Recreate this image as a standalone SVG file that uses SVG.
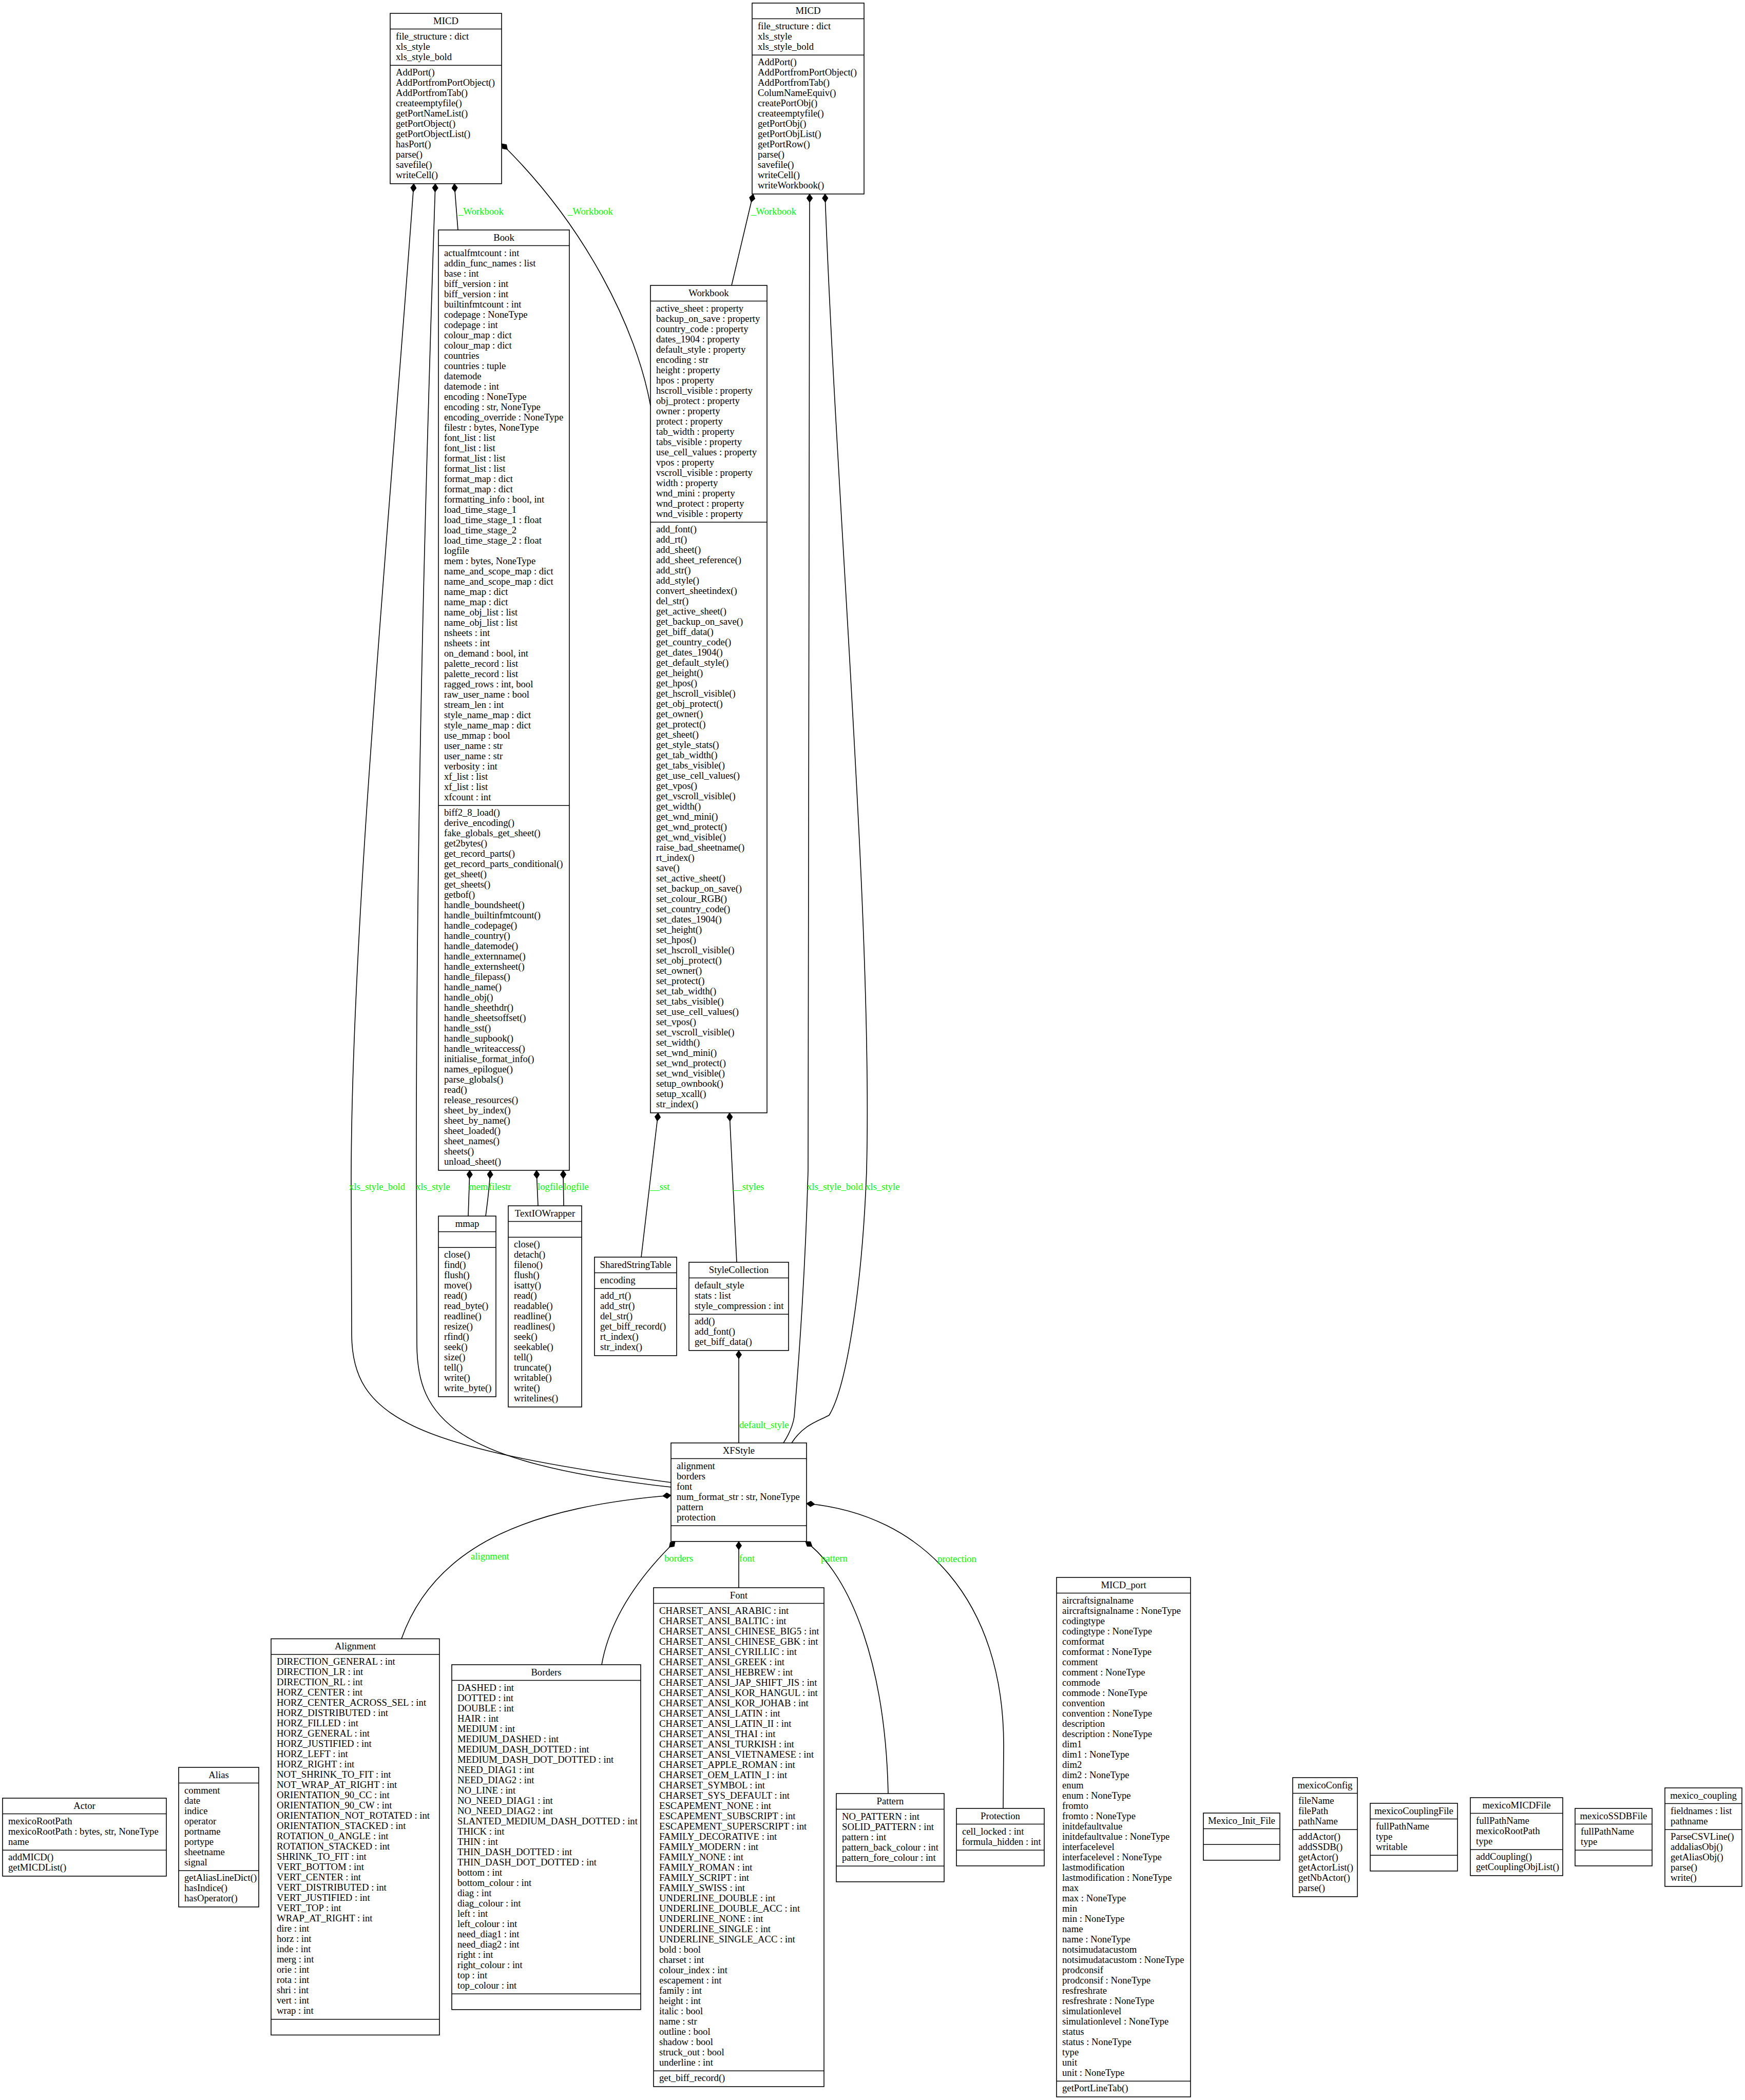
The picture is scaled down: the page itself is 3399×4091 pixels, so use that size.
<svg xmlns="http://www.w3.org/2000/svg" width="3399" height="4091" viewBox="0 0 3399 4091">
<style>
text{font-family:"Liberation Serif","Times New Roman",serif;font-size:18.7px;fill:#000}
.h{text-anchor:middle}
.box{fill:#fff;stroke:#000;stroke-width:1.6}
.sep{stroke:#000;stroke-width:1.6}
.e{fill:none;stroke:#000;stroke-width:1.6}
.lbl{fill:#00ff00}
</style>
<defs>
<marker id="dia" markerUnits="userSpaceOnUse" viewBox="0 0 16 12" refX="0" refY="6" markerWidth="16" markerHeight="12" orient="auto"><polygon points="0,6 8,0.5 16,6 8,11.5" fill="#000" stroke="#000" stroke-width="1"/></marker>
</defs>
<rect width="3399" height="4091" fill="#fff"/>

<g id="MICD_L">
<rect class="box" x="760" y="26" width="217" height="331.9"/>
<line class="sep" x1="760" y1="56.5" x2="977" y2="56.5"/>
<line class="sep" x1="760" y1="127.2" x2="977" y2="127.2"/>
<text class="h" x="868.5" y="46.5">MICD</text>
<text y="76.5"><tspan x="771">file_structure : dict</tspan><tspan x="771" dy="20">xls_style</tspan><tspan x="771" dy="20">xls_style_bold</tspan></text>
<text y="147.2"><tspan x="771">AddPort()</tspan><tspan x="771" dy="20">AddPortfromPortObject()</tspan><tspan x="771" dy="20">AddPortfromTab()</tspan><tspan x="771" dy="20">createemptyfile()</tspan><tspan x="771" dy="20">getPortNameList()</tspan><tspan x="771" dy="20">getPortObject()</tspan><tspan x="771" dy="20">getPortObjectList()</tspan><tspan x="771" dy="20">hasPort()</tspan><tspan x="771" dy="20">parse()</tspan><tspan x="771" dy="20">savefile()</tspan><tspan x="771" dy="20">writeCell()</tspan></text>
</g>

<g id="MICD_R">
<rect class="box" x="1465" y="6" width="218" height="371.9"/>
<line class="sep" x1="1465" y1="36.5" x2="1683" y2="36.5"/>
<line class="sep" x1="1465" y1="107.2" x2="1683" y2="107.2"/>
<text class="h" x="1574" y="26.5">MICD</text>
<text y="56.5"><tspan x="1476">file_structure : dict</tspan><tspan x="1476" dy="20">xls_style</tspan><tspan x="1476" dy="20">xls_style_bold</tspan></text>
<text y="127.2"><tspan x="1476">AddPort()</tspan><tspan x="1476" dy="20">AddPortfromPortObject()</tspan><tspan x="1476" dy="20">AddPortfromTab()</tspan><tspan x="1476" dy="20">ColumNameEquiv()</tspan><tspan x="1476" dy="20">createPortObj()</tspan><tspan x="1476" dy="20">createemptyfile()</tspan><tspan x="1476" dy="20">getPortObj()</tspan><tspan x="1476" dy="20">getPortObjList()</tspan><tspan x="1476" dy="20">getPortRow()</tspan><tspan x="1476" dy="20">parse()</tspan><tspan x="1476" dy="20">savefile()</tspan><tspan x="1476" dy="20">writeCell()</tspan><tspan x="1476" dy="20">writeWorkbook()</tspan></text>
</g>

<g id="Book">
<rect class="box" x="854" y="448" width="255" height="1831.9"/>
<line class="sep" x1="854" y1="478.5" x2="1109" y2="478.5"/>
<line class="sep" x1="854" y1="1569.2" x2="1109" y2="1569.2"/>
<text class="h" x="981.5" y="468.5">Book</text>
<text y="498.5"><tspan x="865">actualfmtcount : int</tspan><tspan x="865" dy="20">addin_func_names : list</tspan><tspan x="865" dy="20">base : int</tspan><tspan x="865" dy="20">biff_version : int</tspan><tspan x="865" dy="20">biff_version : int</tspan><tspan x="865" dy="20">builtinfmtcount : int</tspan><tspan x="865" dy="20">codepage : NoneType</tspan><tspan x="865" dy="20">codepage : int</tspan><tspan x="865" dy="20">colour_map : dict</tspan><tspan x="865" dy="20">colour_map : dict</tspan><tspan x="865" dy="20">countries</tspan><tspan x="865" dy="20">countries : tuple</tspan><tspan x="865" dy="20">datemode</tspan><tspan x="865" dy="20">datemode : int</tspan><tspan x="865" dy="20">encoding : NoneType</tspan><tspan x="865" dy="20">encoding : str, NoneType</tspan><tspan x="865" dy="20">encoding_override : NoneType</tspan><tspan x="865" dy="20">filestr : bytes, NoneType</tspan><tspan x="865" dy="20">font_list : list</tspan><tspan x="865" dy="20">font_list : list</tspan><tspan x="865" dy="20">format_list : list</tspan><tspan x="865" dy="20">format_list : list</tspan><tspan x="865" dy="20">format_map : dict</tspan><tspan x="865" dy="20">format_map : dict</tspan><tspan x="865" dy="20">formatting_info : bool, int</tspan><tspan x="865" dy="20">load_time_stage_1</tspan><tspan x="865" dy="20">load_time_stage_1 : float</tspan><tspan x="865" dy="20">load_time_stage_2</tspan><tspan x="865" dy="20">load_time_stage_2 : float</tspan><tspan x="865" dy="20">logfile</tspan><tspan x="865" dy="20">mem : bytes, NoneType</tspan><tspan x="865" dy="20">name_and_scope_map : dict</tspan><tspan x="865" dy="20">name_and_scope_map : dict</tspan><tspan x="865" dy="20">name_map : dict</tspan><tspan x="865" dy="20">name_map : dict</tspan><tspan x="865" dy="20">name_obj_list : list</tspan><tspan x="865" dy="20">name_obj_list : list</tspan><tspan x="865" dy="20">nsheets : int</tspan><tspan x="865" dy="20">nsheets : int</tspan><tspan x="865" dy="20">on_demand : bool, int</tspan><tspan x="865" dy="20">palette_record : list</tspan><tspan x="865" dy="20">palette_record : list</tspan><tspan x="865" dy="20">ragged_rows : int, bool</tspan><tspan x="865" dy="20">raw_user_name : bool</tspan><tspan x="865" dy="20">stream_len : int</tspan><tspan x="865" dy="20">style_name_map : dict</tspan><tspan x="865" dy="20">style_name_map : dict</tspan><tspan x="865" dy="20">use_mmap : bool</tspan><tspan x="865" dy="20">user_name : str</tspan><tspan x="865" dy="20">user_name : str</tspan><tspan x="865" dy="20">verbosity : int</tspan><tspan x="865" dy="20">xf_list : list</tspan><tspan x="865" dy="20">xf_list : list</tspan><tspan x="865" dy="20">xfcount : int</tspan></text>
<text y="1589.2"><tspan x="865">biff2_8_load()</tspan><tspan x="865" dy="20">derive_encoding()</tspan><tspan x="865" dy="20">fake_globals_get_sheet()</tspan><tspan x="865" dy="20">get2bytes()</tspan><tspan x="865" dy="20">get_record_parts()</tspan><tspan x="865" dy="20">get_record_parts_conditional()</tspan><tspan x="865" dy="20">get_sheet()</tspan><tspan x="865" dy="20">get_sheets()</tspan><tspan x="865" dy="20">getbof()</tspan><tspan x="865" dy="20">handle_boundsheet()</tspan><tspan x="865" dy="20">handle_builtinfmtcount()</tspan><tspan x="865" dy="20">handle_codepage()</tspan><tspan x="865" dy="20">handle_country()</tspan><tspan x="865" dy="20">handle_datemode()</tspan><tspan x="865" dy="20">handle_externname()</tspan><tspan x="865" dy="20">handle_externsheet()</tspan><tspan x="865" dy="20">handle_filepass()</tspan><tspan x="865" dy="20">handle_name()</tspan><tspan x="865" dy="20">handle_obj()</tspan><tspan x="865" dy="20">handle_sheethdr()</tspan><tspan x="865" dy="20">handle_sheetsoffset()</tspan><tspan x="865" dy="20">handle_sst()</tspan><tspan x="865" dy="20">handle_supbook()</tspan><tspan x="865" dy="20">handle_writeaccess()</tspan><tspan x="865" dy="20">initialise_format_info()</tspan><tspan x="865" dy="20">names_epilogue()</tspan><tspan x="865" dy="20">parse_globals()</tspan><tspan x="865" dy="20">read()</tspan><tspan x="865" dy="20">release_resources()</tspan><tspan x="865" dy="20">sheet_by_index()</tspan><tspan x="865" dy="20">sheet_by_name()</tspan><tspan x="865" dy="20">sheet_loaded()</tspan><tspan x="865" dy="20">sheet_names()</tspan><tspan x="865" dy="20">sheets()</tspan><tspan x="865" dy="20">unload_sheet()</tspan></text>
</g>

<g id="Workbook">
<rect class="box" x="1267" y="556" width="227" height="1611.9"/>
<line class="sep" x1="1267" y1="586.5" x2="1494" y2="586.5"/>
<line class="sep" x1="1267" y1="1017.2" x2="1494" y2="1017.2"/>
<text class="h" x="1380.5" y="576.5">Workbook</text>
<text y="606.5"><tspan x="1278">active_sheet : property</tspan><tspan x="1278" dy="20">backup_on_save : property</tspan><tspan x="1278" dy="20">country_code : property</tspan><tspan x="1278" dy="20">dates_1904 : property</tspan><tspan x="1278" dy="20">default_style : property</tspan><tspan x="1278" dy="20">encoding : str</tspan><tspan x="1278" dy="20">height : property</tspan><tspan x="1278" dy="20">hpos : property</tspan><tspan x="1278" dy="20">hscroll_visible : property</tspan><tspan x="1278" dy="20">obj_protect : property</tspan><tspan x="1278" dy="20">owner : property</tspan><tspan x="1278" dy="20">protect : property</tspan><tspan x="1278" dy="20">tab_width : property</tspan><tspan x="1278" dy="20">tabs_visible : property</tspan><tspan x="1278" dy="20">use_cell_values : property</tspan><tspan x="1278" dy="20">vpos : property</tspan><tspan x="1278" dy="20">vscroll_visible : property</tspan><tspan x="1278" dy="20">width : property</tspan><tspan x="1278" dy="20">wnd_mini : property</tspan><tspan x="1278" dy="20">wnd_protect : property</tspan><tspan x="1278" dy="20">wnd_visible : property</tspan></text>
<text y="1037.2"><tspan x="1278">add_font()</tspan><tspan x="1278" dy="20">add_rt()</tspan><tspan x="1278" dy="20">add_sheet()</tspan><tspan x="1278" dy="20">add_sheet_reference()</tspan><tspan x="1278" dy="20">add_str()</tspan><tspan x="1278" dy="20">add_style()</tspan><tspan x="1278" dy="20">convert_sheetindex()</tspan><tspan x="1278" dy="20">del_str()</tspan><tspan x="1278" dy="20">get_active_sheet()</tspan><tspan x="1278" dy="20">get_backup_on_save()</tspan><tspan x="1278" dy="20">get_biff_data()</tspan><tspan x="1278" dy="20">get_country_code()</tspan><tspan x="1278" dy="20">get_dates_1904()</tspan><tspan x="1278" dy="20">get_default_style()</tspan><tspan x="1278" dy="20">get_height()</tspan><tspan x="1278" dy="20">get_hpos()</tspan><tspan x="1278" dy="20">get_hscroll_visible()</tspan><tspan x="1278" dy="20">get_obj_protect()</tspan><tspan x="1278" dy="20">get_owner()</tspan><tspan x="1278" dy="20">get_protect()</tspan><tspan x="1278" dy="20">get_sheet()</tspan><tspan x="1278" dy="20">get_style_stats()</tspan><tspan x="1278" dy="20">get_tab_width()</tspan><tspan x="1278" dy="20">get_tabs_visible()</tspan><tspan x="1278" dy="20">get_use_cell_values()</tspan><tspan x="1278" dy="20">get_vpos()</tspan><tspan x="1278" dy="20">get_vscroll_visible()</tspan><tspan x="1278" dy="20">get_width()</tspan><tspan x="1278" dy="20">get_wnd_mini()</tspan><tspan x="1278" dy="20">get_wnd_protect()</tspan><tspan x="1278" dy="20">get_wnd_visible()</tspan><tspan x="1278" dy="20">raise_bad_sheetname()</tspan><tspan x="1278" dy="20">rt_index()</tspan><tspan x="1278" dy="20">save()</tspan><tspan x="1278" dy="20">set_active_sheet()</tspan><tspan x="1278" dy="20">set_backup_on_save()</tspan><tspan x="1278" dy="20">set_colour_RGB()</tspan><tspan x="1278" dy="20">set_country_code()</tspan><tspan x="1278" dy="20">set_dates_1904()</tspan><tspan x="1278" dy="20">set_height()</tspan><tspan x="1278" dy="20">set_hpos()</tspan><tspan x="1278" dy="20">set_hscroll_visible()</tspan><tspan x="1278" dy="20">set_obj_protect()</tspan><tspan x="1278" dy="20">set_owner()</tspan><tspan x="1278" dy="20">set_protect()</tspan><tspan x="1278" dy="20">set_tab_width()</tspan><tspan x="1278" dy="20">set_tabs_visible()</tspan><tspan x="1278" dy="20">set_use_cell_values()</tspan><tspan x="1278" dy="20">set_vpos()</tspan><tspan x="1278" dy="20">set_vscroll_visible()</tspan><tspan x="1278" dy="20">set_width()</tspan><tspan x="1278" dy="20">set_wnd_mini()</tspan><tspan x="1278" dy="20">set_wnd_protect()</tspan><tspan x="1278" dy="20">set_wnd_visible()</tspan><tspan x="1278" dy="20">setup_ownbook()</tspan><tspan x="1278" dy="20">setup_xcall()</tspan><tspan x="1278" dy="20">str_index()</tspan></text>
</g>

<g id="mmap">
<rect class="box" x="854" y="2369" width="112" height="351.9"/>
<line class="sep" x1="854" y1="2399.5" x2="966" y2="2399.5"/>
<line class="sep" x1="854" y1="2430.2" x2="966" y2="2430.2"/>
<text class="h" x="910" y="2389.5">mmap</text>
<text y="2450.2"><tspan x="865">close()</tspan><tspan x="865" dy="20">find()</tspan><tspan x="865" dy="20">flush()</tspan><tspan x="865" dy="20">move()</tspan><tspan x="865" dy="20">read()</tspan><tspan x="865" dy="20">read_byte()</tspan><tspan x="865" dy="20">readline()</tspan><tspan x="865" dy="20">resize()</tspan><tspan x="865" dy="20">rfind()</tspan><tspan x="865" dy="20">seek()</tspan><tspan x="865" dy="20">size()</tspan><tspan x="865" dy="20">tell()</tspan><tspan x="865" dy="20">write()</tspan><tspan x="865" dy="20">write_byte()</tspan></text>
</g>

<g id="TextIOWrapper">
<rect class="box" x="990" y="2349" width="143" height="391.9"/>
<line class="sep" x1="990" y1="2379.5" x2="1133" y2="2379.5"/>
<line class="sep" x1="990" y1="2410.2" x2="1133" y2="2410.2"/>
<text class="h" x="1061.5" y="2369.5">TextIOWrapper</text>
<text y="2430.2"><tspan x="1001">close()</tspan><tspan x="1001" dy="20">detach()</tspan><tspan x="1001" dy="20">fileno()</tspan><tspan x="1001" dy="20">flush()</tspan><tspan x="1001" dy="20">isatty()</tspan><tspan x="1001" dy="20">read()</tspan><tspan x="1001" dy="20">readable()</tspan><tspan x="1001" dy="20">readline()</tspan><tspan x="1001" dy="20">readlines()</tspan><tspan x="1001" dy="20">seek()</tspan><tspan x="1001" dy="20">seekable()</tspan><tspan x="1001" dy="20">tell()</tspan><tspan x="1001" dy="20">truncate()</tspan><tspan x="1001" dy="20">writable()</tspan><tspan x="1001" dy="20">write()</tspan><tspan x="1001" dy="20">writelines()</tspan></text>
</g>

<g id="SharedStringTable">
<rect class="box" x="1158" y="2449" width="160" height="191.9"/>
<line class="sep" x1="1158" y1="2479.5" x2="1318" y2="2479.5"/>
<line class="sep" x1="1158" y1="2510.2" x2="1318" y2="2510.2"/>
<text class="h" x="1238" y="2469.5">SharedStringTable</text>
<text x="1169" y="2499.5">encoding</text>
<text y="2530.2"><tspan x="1169">add_rt()</tspan><tspan x="1169" dy="20">add_str()</tspan><tspan x="1169" dy="20">del_str()</tspan><tspan x="1169" dy="20">get_biff_record()</tspan><tspan x="1169" dy="20">rt_index()</tspan><tspan x="1169" dy="20">str_index()</tspan></text>
</g>

<g id="StyleCollection">
<rect class="box" x="1342" y="2459" width="194" height="171.9"/>
<line class="sep" x1="1342" y1="2489.5" x2="1536" y2="2489.5"/>
<line class="sep" x1="1342" y1="2560.2" x2="1536" y2="2560.2"/>
<text class="h" x="1439" y="2479.5">StyleCollection</text>
<text y="2509.5"><tspan x="1353">default_style</tspan><tspan x="1353" dy="20">stats : list</tspan><tspan x="1353" dy="20">style_compression : int</tspan></text>
<text y="2580.2"><tspan x="1353">add()</tspan><tspan x="1353" dy="20">add_font()</tspan><tspan x="1353" dy="20">get_biff_data()</tspan></text>
</g>

<g id="XFStyle">
<rect class="box" x="1307" y="2811" width="264" height="191.9"/>
<line class="sep" x1="1307" y1="2841.5" x2="1571" y2="2841.5"/>
<line class="sep" x1="1307" y1="2972.2" x2="1571" y2="2972.2"/>
<text class="h" x="1439" y="2831.5">XFStyle</text>
<text y="2861.5"><tspan x="1318">alignment</tspan><tspan x="1318" dy="20">borders</tspan><tspan x="1318" dy="20">font</tspan><tspan x="1318" dy="20">num_format_str : str, NoneType</tspan><tspan x="1318" dy="20">pattern</tspan><tspan x="1318" dy="20">protection</tspan></text>
</g>

<g id="Alignment">
<rect class="box" x="528" y="3192.5" width="328" height="771.9"/>
<line class="sep" x1="528" y1="3223" x2="856" y2="3223"/>
<line class="sep" x1="528" y1="3933.7" x2="856" y2="3933.7"/>
<text class="h" x="692" y="3213">Alignment</text>
<text y="3243"><tspan x="539">DIRECTION_GENERAL : int</tspan><tspan x="539" dy="20">DIRECTION_LR : int</tspan><tspan x="539" dy="20">DIRECTION_RL : int</tspan><tspan x="539" dy="20">HORZ_CENTER : int</tspan><tspan x="539" dy="20">HORZ_CENTER_ACROSS_SEL : int</tspan><tspan x="539" dy="20">HORZ_DISTRIBUTED : int</tspan><tspan x="539" dy="20">HORZ_FILLED : int</tspan><tspan x="539" dy="20">HORZ_GENERAL : int</tspan><tspan x="539" dy="20">HORZ_JUSTIFIED : int</tspan><tspan x="539" dy="20">HORZ_LEFT : int</tspan><tspan x="539" dy="20">HORZ_RIGHT : int</tspan><tspan x="539" dy="20">NOT_SHRINK_TO_FIT : int</tspan><tspan x="539" dy="20">NOT_WRAP_AT_RIGHT : int</tspan><tspan x="539" dy="20">ORIENTATION_90_CC : int</tspan><tspan x="539" dy="20">ORIENTATION_90_CW : int</tspan><tspan x="539" dy="20">ORIENTATION_NOT_ROTATED : int</tspan><tspan x="539" dy="20">ORIENTATION_STACKED : int</tspan><tspan x="539" dy="20">ROTATION_0_ANGLE : int</tspan><tspan x="539" dy="20">ROTATION_STACKED : int</tspan><tspan x="539" dy="20">SHRINK_TO_FIT : int</tspan><tspan x="539" dy="20">VERT_BOTTOM : int</tspan><tspan x="539" dy="20">VERT_CENTER : int</tspan><tspan x="539" dy="20">VERT_DISTRIBUTED : int</tspan><tspan x="539" dy="20">VERT_JUSTIFIED : int</tspan><tspan x="539" dy="20">VERT_TOP : int</tspan><tspan x="539" dy="20">WRAP_AT_RIGHT : int</tspan><tspan x="539" dy="20">dire : int</tspan><tspan x="539" dy="20">horz : int</tspan><tspan x="539" dy="20">inde : int</tspan><tspan x="539" dy="20">merg : int</tspan><tspan x="539" dy="20">orie : int</tspan><tspan x="539" dy="20">rota : int</tspan><tspan x="539" dy="20">shri : int</tspan><tspan x="539" dy="20">vert : int</tspan><tspan x="539" dy="20">wrap : int</tspan></text>
</g>

<g id="Borders">
<rect class="box" x="880" y="3243" width="368" height="671.9"/>
<line class="sep" x1="880" y1="3273.5" x2="1248" y2="3273.5"/>
<line class="sep" x1="880" y1="3884.2" x2="1248" y2="3884.2"/>
<text class="h" x="1064" y="3263.5">Borders</text>
<text y="3293.5"><tspan x="891">DASHED : int</tspan><tspan x="891" dy="20">DOTTED : int</tspan><tspan x="891" dy="20">DOUBLE : int</tspan><tspan x="891" dy="20">HAIR : int</tspan><tspan x="891" dy="20">MEDIUM : int</tspan><tspan x="891" dy="20">MEDIUM_DASHED : int</tspan><tspan x="891" dy="20">MEDIUM_DASH_DOTTED : int</tspan><tspan x="891" dy="20">MEDIUM_DASH_DOT_DOTTED : int</tspan><tspan x="891" dy="20">NEED_DIAG1 : int</tspan><tspan x="891" dy="20">NEED_DIAG2 : int</tspan><tspan x="891" dy="20">NO_LINE : int</tspan><tspan x="891" dy="20">NO_NEED_DIAG1 : int</tspan><tspan x="891" dy="20">NO_NEED_DIAG2 : int</tspan><tspan x="891" dy="20">SLANTED_MEDIUM_DASH_DOTTED : int</tspan><tspan x="891" dy="20">THICK : int</tspan><tspan x="891" dy="20">THIN : int</tspan><tspan x="891" dy="20">THIN_DASH_DOTTED : int</tspan><tspan x="891" dy="20">THIN_DASH_DOT_DOTTED : int</tspan><tspan x="891" dy="20">bottom : int</tspan><tspan x="891" dy="20">bottom_colour : int</tspan><tspan x="891" dy="20">diag : int</tspan><tspan x="891" dy="20">diag_colour : int</tspan><tspan x="891" dy="20">left : int</tspan><tspan x="891" dy="20">left_colour : int</tspan><tspan x="891" dy="20">need_diag1 : int</tspan><tspan x="891" dy="20">need_diag2 : int</tspan><tspan x="891" dy="20">right : int</tspan><tspan x="891" dy="20">right_colour : int</tspan><tspan x="891" dy="20">top : int</tspan><tspan x="891" dy="20">top_colour : int</tspan></text>
</g>

<g id="Font">
<rect class="box" x="1273" y="3093" width="332" height="971.9"/>
<line class="sep" x1="1273" y1="3123.5" x2="1605" y2="3123.5"/>
<line class="sep" x1="1273" y1="4034.2" x2="1605" y2="4034.2"/>
<text class="h" x="1439" y="3113.5">Font</text>
<text y="3143.5"><tspan x="1284">CHARSET_ANSI_ARABIC : int</tspan><tspan x="1284" dy="20">CHARSET_ANSI_BALTIC : int</tspan><tspan x="1284" dy="20">CHARSET_ANSI_CHINESE_BIG5 : int</tspan><tspan x="1284" dy="20">CHARSET_ANSI_CHINESE_GBK : int</tspan><tspan x="1284" dy="20">CHARSET_ANSI_CYRILLIC : int</tspan><tspan x="1284" dy="20">CHARSET_ANSI_GREEK : int</tspan><tspan x="1284" dy="20">CHARSET_ANSI_HEBREW : int</tspan><tspan x="1284" dy="20">CHARSET_ANSI_JAP_SHIFT_JIS : int</tspan><tspan x="1284" dy="20">CHARSET_ANSI_KOR_HANGUL : int</tspan><tspan x="1284" dy="20">CHARSET_ANSI_KOR_JOHAB : int</tspan><tspan x="1284" dy="20">CHARSET_ANSI_LATIN : int</tspan><tspan x="1284" dy="20">CHARSET_ANSI_LATIN_II : int</tspan><tspan x="1284" dy="20">CHARSET_ANSI_THAI : int</tspan><tspan x="1284" dy="20">CHARSET_ANSI_TURKISH : int</tspan><tspan x="1284" dy="20">CHARSET_ANSI_VIETNAMESE : int</tspan><tspan x="1284" dy="20">CHARSET_APPLE_ROMAN : int</tspan><tspan x="1284" dy="20">CHARSET_OEM_LATIN_I : int</tspan><tspan x="1284" dy="20">CHARSET_SYMBOL : int</tspan><tspan x="1284" dy="20">CHARSET_SYS_DEFAULT : int</tspan><tspan x="1284" dy="20">ESCAPEMENT_NONE : int</tspan><tspan x="1284" dy="20">ESCAPEMENT_SUBSCRIPT : int</tspan><tspan x="1284" dy="20">ESCAPEMENT_SUPERSCRIPT : int</tspan><tspan x="1284" dy="20">FAMILY_DECORATIVE : int</tspan><tspan x="1284" dy="20">FAMILY_MODERN : int</tspan><tspan x="1284" dy="20">FAMILY_NONE : int</tspan><tspan x="1284" dy="20">FAMILY_ROMAN : int</tspan><tspan x="1284" dy="20">FAMILY_SCRIPT : int</tspan><tspan x="1284" dy="20">FAMILY_SWISS : int</tspan><tspan x="1284" dy="20">UNDERLINE_DOUBLE : int</tspan><tspan x="1284" dy="20">UNDERLINE_DOUBLE_ACC : int</tspan><tspan x="1284" dy="20">UNDERLINE_NONE : int</tspan><tspan x="1284" dy="20">UNDERLINE_SINGLE : int</tspan><tspan x="1284" dy="20">UNDERLINE_SINGLE_ACC : int</tspan><tspan x="1284" dy="20">bold : bool</tspan><tspan x="1284" dy="20">charset : int</tspan><tspan x="1284" dy="20">colour_index : int</tspan><tspan x="1284" dy="20">escapement : int</tspan><tspan x="1284" dy="20">family : int</tspan><tspan x="1284" dy="20">height : int</tspan><tspan x="1284" dy="20">italic : bool</tspan><tspan x="1284" dy="20">name : str</tspan><tspan x="1284" dy="20">outline : bool</tspan><tspan x="1284" dy="20">shadow : bool</tspan><tspan x="1284" dy="20">struck_out : bool</tspan><tspan x="1284" dy="20">underline : int</tspan></text>
<text x="1284" y="4054.2">get_biff_record()</text>
</g>

<g id="Pattern">
<rect class="box" x="1629" y="3494" width="210" height="171.9"/>
<line class="sep" x1="1629" y1="3524.5" x2="1839" y2="3524.5"/>
<line class="sep" x1="1629" y1="3635.2" x2="1839" y2="3635.2"/>
<text class="h" x="1734" y="3514.5">Pattern</text>
<text y="3544.5"><tspan x="1640">NO_PATTERN : int</tspan><tspan x="1640" dy="20">SOLID_PATTERN : int</tspan><tspan x="1640" dy="20">pattern : int</tspan><tspan x="1640" dy="20">pattern_back_colour : int</tspan><tspan x="1640" dy="20">pattern_fore_colour : int</tspan></text>
</g>

<g id="Protection">
<rect class="box" x="1863" y="3523" width="171" height="111.9"/>
<line class="sep" x1="1863" y1="3553.5" x2="2034" y2="3553.5"/>
<line class="sep" x1="1863" y1="3604.2" x2="2034" y2="3604.2"/>
<text class="h" x="1948.5" y="3543.5">Protection</text>
<text y="3573.5"><tspan x="1874">cell_locked : int</tspan><tspan x="1874" dy="20">formula_hidden : int</tspan></text>
</g>

<g id="MICD_port">
<rect class="box" x="2058" y="3073" width="261" height="1011.9"/>
<line class="sep" x1="2058" y1="3103.5" x2="2319" y2="3103.5"/>
<line class="sep" x1="2058" y1="4054.2" x2="2319" y2="4054.2"/>
<text class="h" x="2188.5" y="3093.5">MICD_port</text>
<text y="3123.5"><tspan x="2069">aircraftsignalname</tspan><tspan x="2069" dy="20">aircraftsignalname : NoneType</tspan><tspan x="2069" dy="20">codingtype</tspan><tspan x="2069" dy="20">codingtype : NoneType</tspan><tspan x="2069" dy="20">comformat</tspan><tspan x="2069" dy="20">comformat : NoneType</tspan><tspan x="2069" dy="20">comment</tspan><tspan x="2069" dy="20">comment : NoneType</tspan><tspan x="2069" dy="20">commode</tspan><tspan x="2069" dy="20">commode : NoneType</tspan><tspan x="2069" dy="20">convention</tspan><tspan x="2069" dy="20">convention : NoneType</tspan><tspan x="2069" dy="20">description</tspan><tspan x="2069" dy="20">description : NoneType</tspan><tspan x="2069" dy="20">dim1</tspan><tspan x="2069" dy="20">dim1  : NoneType</tspan><tspan x="2069" dy="20">dim2</tspan><tspan x="2069" dy="20">dim2  : NoneType</tspan><tspan x="2069" dy="20">enum</tspan><tspan x="2069" dy="20">enum : NoneType</tspan><tspan x="2069" dy="20">fromto</tspan><tspan x="2069" dy="20">fromto : NoneType</tspan><tspan x="2069" dy="20">initdefaultvalue</tspan><tspan x="2069" dy="20">initdefaultvalue : NoneType</tspan><tspan x="2069" dy="20">interfacelevel</tspan><tspan x="2069" dy="20">interfacelevel : NoneType</tspan><tspan x="2069" dy="20">lastmodification</tspan><tspan x="2069" dy="20">lastmodification : NoneType</tspan><tspan x="2069" dy="20">max</tspan><tspan x="2069" dy="20">max : NoneType</tspan><tspan x="2069" dy="20">min</tspan><tspan x="2069" dy="20">min : NoneType</tspan><tspan x="2069" dy="20">name</tspan><tspan x="2069" dy="20">name : NoneType</tspan><tspan x="2069" dy="20">notsimudatacustom</tspan><tspan x="2069" dy="20">notsimudatacustom : NoneType</tspan><tspan x="2069" dy="20">prodconsif</tspan><tspan x="2069" dy="20">prodconsif : NoneType</tspan><tspan x="2069" dy="20">resfreshrate</tspan><tspan x="2069" dy="20">resfreshrate : NoneType</tspan><tspan x="2069" dy="20">simulationlevel</tspan><tspan x="2069" dy="20">simulationlevel : NoneType</tspan><tspan x="2069" dy="20">status</tspan><tspan x="2069" dy="20">status : NoneType</tspan><tspan x="2069" dy="20">type</tspan><tspan x="2069" dy="20">unit</tspan><tspan x="2069" dy="20">unit : NoneType</tspan></text>
<text x="2069" y="4074.2">getPortLineTab()</text>
</g>

<g id="Actor">
<rect class="box" x="5" y="3503" width="319" height="151.9"/>
<line class="sep" x1="5" y1="3533.5" x2="324" y2="3533.5"/>
<line class="sep" x1="5" y1="3604.2" x2="324" y2="3604.2"/>
<text class="h" x="164.5" y="3523.5">Actor</text>
<text y="3553.5"><tspan x="16">mexicoRootPath</tspan><tspan x="16" dy="20">mexicoRootPath : bytes, str, NoneType</tspan><tspan x="16" dy="20">name</tspan></text>
<text y="3624.2"><tspan x="16">addMICD()</tspan><tspan x="16" dy="20">getMICDList()</tspan></text>
</g>

<g id="Alias">
<rect class="box" x="348" y="3443" width="156" height="271.9"/>
<line class="sep" x1="348" y1="3473.5" x2="504" y2="3473.5"/>
<line class="sep" x1="348" y1="3644.2" x2="504" y2="3644.2"/>
<text class="h" x="426" y="3463.5">Alias</text>
<text y="3493.5"><tspan x="359">comment</tspan><tspan x="359" dy="20">date</tspan><tspan x="359" dy="20">indice</tspan><tspan x="359" dy="20">operator</tspan><tspan x="359" dy="20">portname</tspan><tspan x="359" dy="20">portype</tspan><tspan x="359" dy="20">sheetname</tspan><tspan x="359" dy="20">signal</tspan></text>
<text y="3664.2"><tspan x="359">getAliasLineDict()</tspan><tspan x="359" dy="20">hasIndice()</tspan><tspan x="359" dy="20">hasOperator()</tspan></text>
</g>

<g id="Mexico_Init_File">
<rect class="box" x="2344" y="3532" width="149" height="91.9"/>
<line class="sep" x1="2344" y1="3562.5" x2="2493" y2="3562.5"/>
<line class="sep" x1="2344" y1="3593.2" x2="2493" y2="3593.2"/>
<text class="h" x="2418.5" y="3552.5">Mexico_Init_File</text>
</g>

<g id="mexicoConfig">
<rect class="box" x="2518" y="3463" width="126" height="231.9"/>
<line class="sep" x1="2518" y1="3493.5" x2="2644" y2="3493.5"/>
<line class="sep" x1="2518" y1="3564.2" x2="2644" y2="3564.2"/>
<text class="h" x="2581" y="3483.5">mexicoConfig</text>
<text y="3513.5"><tspan x="2529">fileName</tspan><tspan x="2529" dy="20">filePath</tspan><tspan x="2529" dy="20">pathName</tspan></text>
<text y="3584.2"><tspan x="2529">addActor()</tspan><tspan x="2529" dy="20">addSSDB()</tspan><tspan x="2529" dy="20">getActor()</tspan><tspan x="2529" dy="20">getActorList()</tspan><tspan x="2529" dy="20">getNbActor()</tspan><tspan x="2529" dy="20">parse()</tspan></text>
</g>

<g id="mexicoCouplingFile">
<rect class="box" x="2669" y="3513" width="170" height="131.9"/>
<line class="sep" x1="2669" y1="3543.5" x2="2839" y2="3543.5"/>
<line class="sep" x1="2669" y1="3614.2" x2="2839" y2="3614.2"/>
<text class="h" x="2754" y="3533.5">mexicoCouplingFile</text>
<text y="3563.5"><tspan x="2680">fullPathName</tspan><tspan x="2680" dy="20">type</tspan><tspan x="2680" dy="20">writable</tspan></text>
</g>

<g id="mexicoMICDFile">
<rect class="box" x="2864" y="3502" width="180" height="151.9"/>
<line class="sep" x1="2864" y1="3532.5" x2="3044" y2="3532.5"/>
<line class="sep" x1="2864" y1="3603.2" x2="3044" y2="3603.2"/>
<text class="h" x="2954" y="3522.5">mexicoMICDFile</text>
<text y="3552.5"><tspan x="2875">fullPathName</tspan><tspan x="2875" dy="20">mexicoRootPath</tspan><tspan x="2875" dy="20">type</tspan></text>
<text y="3623.2"><tspan x="2875">addCoupling()</tspan><tspan x="2875" dy="20">getCouplingObjList()</tspan></text>
</g>

<g id="mexicoSSDBFile">
<rect class="box" x="3068" y="3523" width="150" height="111.9"/>
<line class="sep" x1="3068" y1="3553.5" x2="3218" y2="3553.5"/>
<line class="sep" x1="3068" y1="3604.2" x2="3218" y2="3604.2"/>
<text class="h" x="3143" y="3543.5">mexicoSSDBFile</text>
<text y="3573.5"><tspan x="3079">fullPathName</tspan><tspan x="3079" dy="20">type</tspan></text>
</g>

<g id="mexico_coupling">
<rect class="box" x="3243" y="3483" width="150" height="191.9"/>
<line class="sep" x1="3243" y1="3513.5" x2="3393" y2="3513.5"/>
<line class="sep" x1="3243" y1="3564.2" x2="3393" y2="3564.2"/>
<text class="h" x="3318" y="3503.5">mexico_coupling</text>
<text y="3533.5"><tspan x="3254">fieldnames : list</tspan><tspan x="3254" dy="20">pathname</tspan></text>
<text y="3584.2"><tspan x="3254">ParseCSVLine()</tspan><tspan x="3254" dy="20">addaliasObj()</tspan><tspan x="3254" dy="20">getAliasObj()</tspan><tspan x="3254" dy="20">parse()</tspan><tspan x="3254" dy="20">write()</tspan></text>
</g>

<g id="edges">
<path class="e" marker-start="url(#dia)" d="M 885,358 L 892,448"/>
<text class="lbl" x="893" y="418">_Workbook</text>
<path class="e" marker-start="url(#dia)" d="M 977,280 C 1140,440 1240,640 1267,790"/>
<text class="lbl" x="1106" y="418">_Workbook</text>
<path class="e" marker-start="url(#dia)" d="M 806,358 C 760,1000 684,1800 684,2300 L 685,2600 C 686,2760 800,2820 1307,2888"/>
<text class="lbl" x="680" y="2318">xls_style_bold</text>
<path class="e" marker-start="url(#dia)" d="M 848,358 C 830,900 810,1600 811,2300 L 812,2620 C 813,2760 880,2850 1307,2897"/>
<text class="lbl" x="810" y="2318">xls_style</text>
<path class="e" marker-start="url(#dia)" d="M 1467,378 L 1425,556"/>
<text class="lbl" x="1463" y="418">_Workbook</text>
<path class="e" marker-start="url(#dia)" d="M 1577,378 C 1578,1200 1578,1900 1574,2280 C 1568,2500 1552,2700 1547,2760 C 1544,2780 1535,2797 1526,2811"/>
<text class="lbl" x="1572" y="2318">xls_style_bold</text>
<path class="e" marker-start="url(#dia)" d="M 1607,378 C 1630,1000 1700,1800 1688,2280 C 1680,2500 1650,2700 1615,2757 C 1595,2768 1565,2775 1542,2811"/>
<text class="lbl" x="1686" y="2318">xls_style</text>
<path class="e" marker-start="url(#dia)" d="M 915,2280 L 912,2369"/>
<text class="lbl" x="913" y="2318">mem</text>
<path class="e" marker-start="url(#dia)" d="M 955,2280 C 953,2320 949,2345 946,2369"/>
<text class="lbl" x="952" y="2318">filestr</text>
<path class="e" marker-start="url(#dia)" d="M 1045,2280 L 1048,2349"/>
<text class="lbl" x="1047" y="2318">logfile</text>
<path class="e" marker-start="url(#dia)" d="M 1097,2280 L 1098,2349"/>
<text class="lbl" x="1098" y="2318">logfile</text>
<path class="e" marker-start="url(#dia)" d="M 1282,2168 L 1249,2449"/>
<text class="lbl" x="1266" y="2318">__sst</text>
<path class="e" marker-start="url(#dia)" d="M 1421,2168 L 1435,2459"/>
<text class="lbl" x="1427" y="2318">__styles</text>
<path class="e" marker-start="url(#dia)" d="M 1439,2631 L 1439,2811"/>
<text class="lbl" x="1440" y="2782">default_style</text>
<path class="e" marker-start="url(#dia)" d="M 1307,2913 C 1050,2935 850,3000 782,3192.5"/>
<text class="lbl" x="917" y="3038">alignment</text>
<path class="e" marker-start="url(#dia)" d="M 1315,3003 C 1262,3055 1190,3140 1172,3243"/>
<text class="lbl" x="1294" y="3042">borders</text>
<path class="e" marker-start="url(#dia)" d="M 1439,3003 L 1439,3093"/>
<text class="lbl" x="1440" y="3042">font</text>
<path class="e" marker-start="url(#dia)" d="M 1569,3003 C 1660,3070 1725,3250 1730,3494"/>
<text class="lbl" x="1599" y="3042">pattern</text>
<path class="e" marker-start="url(#dia)" d="M 1571,2929 C 1800,2950 1955,3120 1955,3400 L 1954,3523"/>
<text class="lbl" x="1826" y="3043">protection</text>
</g>
</svg>
